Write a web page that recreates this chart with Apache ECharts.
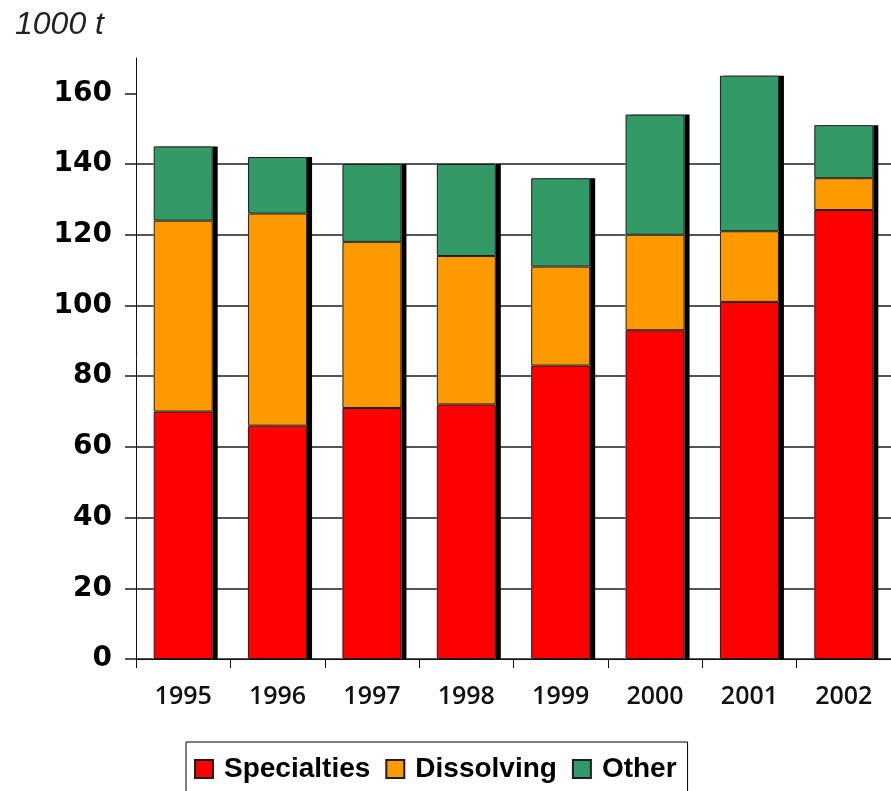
<!DOCTYPE html>
<html>
<head>
<meta charset="utf-8">
<script src="https://cdn.jsdelivr.net/npm/echarts@6/dist/echarts.min.js"></script>
<style>html,body{margin:0;padding:0;background:#fff}#c{width:891px;height:791px}</style>
</head>
<body>
<div id="c"></div>
<script>
const categories = ['1995', '1996', '1997', '1998', '1999', '2000', '2001', '2002'];
const specialties = [70, 66, 71, 72, 83, 93, 101, 127];
const dissolving = [54, 60, 47, 42, 28, 27, 20, 9];
const other = [21, 16, 22, 26, 25, 34, 44, 15];
const yTicks = [0, 20, 40, 60, 80, 100, 120, 140, 160];
const unitLabel = '1000 t';

const totals = categories.map((c, i) => specialties[i] + dissolving[i] + other[i]);

const chart = echarts.init(document.getElementById('c'), null, { renderer: 'canvas' });
const segStyle = (color) => ({ color: color, borderColor: '#1e1e1e', borderWidth: 1 });

chart.setOption({
  animation: false,
  backgroundColor: '#ffffff',
  title: {
    text: unitLabel,
    left: 10,
    top: 4,
    textStyle: { fontFamily: '"Liberation Sans", sans-serif', fontStyle: 'italic', fontWeight: 'normal', fontSize: 32, color: '#222' }
  },
  legend: {
    data: ['Specialties', 'Dissolving', 'Other'],
    left: 186,
    top: 742,
    orient: 'horizontal',
    icon: 'rect',
    itemWidth: 18,
    itemHeight: 18,
    itemGap: 15,
    padding: [13, 11, 14, 8],
    borderColor: '#000',
    borderWidth: 1,
    textStyle: { fontFamily: '"Liberation Sans", Arial, sans-serif', fontWeight: 'bold', fontSize: 28, color: '#000', padding: [0, 0, 0, 6] }
  },
  grid: { left: 136, top: 58, width: 762, height: 601, containLabel: false },
  xAxis: {
    type: 'category',
    data: categories,
    axisLine: { lineStyle: { color: '#111', width: 1 } },
    axisTick: { show: true, length: 9, lineStyle: { color: '#111', width: 1 } },
    axisLabel: { margin: 25, fontFamily: '"Open Sans", sans-serif', fontWeight: 600, fontSize: 25, color: '#111' }
  },
  yAxis: {
    type: 'value',
    min: 0,
    max: 170,
    interval: 20,
    axisLine: { show: true, lineStyle: { color: '#111', width: 1 } },
    axisTick: { show: true, length: 11, customValues: yTicks, lineStyle: { color: '#555', width: 2 } },
    axisLabel: { customValues: yTicks, margin: 24, fontFamily: '"DejaVu Sans", sans-serif', fontWeight: 'bold', fontSize: 28, color: '#000' },
    splitLine: { show: true, showMaxLine: false, lineStyle: { color: '#555', width: 2 } }
  },
  series: [
    {
      name: 'shadow', type: 'bar', data: totals, barWidth: 59, barGap: '-100%', silent: true, z: 1,
      itemStyle: { color: '#ffffff', shadowColor: '#000', shadowBlur: 0, shadowOffsetX: 5, shadowOffsetY: 0 }
    },
    { name: 'Specialties', type: 'bar', stack: 'total', data: specialties, barWidth: 59, barGap: '-100%', z: 3, itemStyle: segStyle('#ff0000') },
    { name: 'Dissolving', type: 'bar', stack: 'total', data: dissolving, barWidth: 59, barGap: '-100%', z: 3, itemStyle: segStyle('#ff9900') },
    { name: 'Other', type: 'bar', stack: 'total', data: other, barWidth: 59, barGap: '-100%', z: 3, itemStyle: segStyle('#339966') }
  ]
});
</script>
</body>
</html>
